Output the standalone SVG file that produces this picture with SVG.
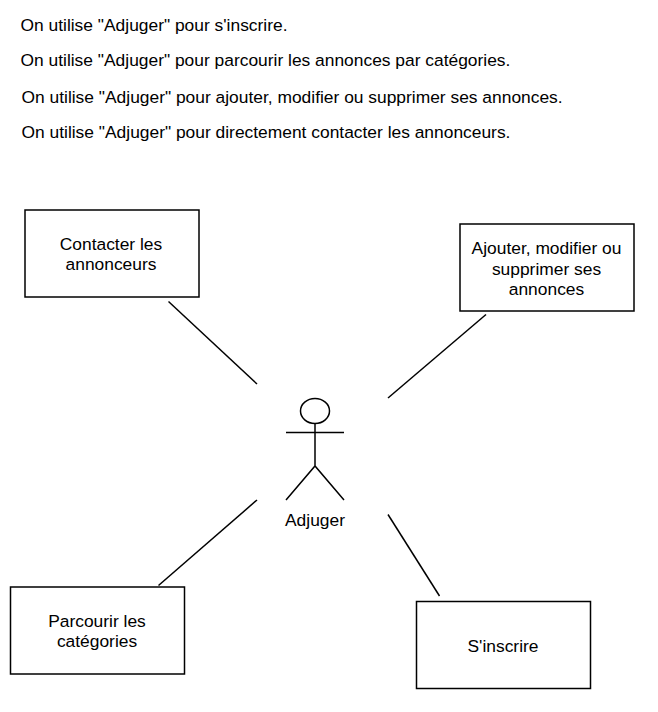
<svg xmlns="http://www.w3.org/2000/svg" width="658" height="712" viewBox="0 0 658 712">
<style>
text{font-family:"Liberation Sans",Arial,sans-serif;font-size:17.4px;fill:#000}
.c{text-anchor:middle}
rect{fill:#fff;stroke:#000;stroke-width:1.5}
line,.a{stroke:#000;stroke-width:1.5;fill:none}
</style>
<rect width="658" height="712" style="fill:#fff;stroke:none"/>
<g id="notes">
<text x="20.500" y="30.500">On utilise "Adjuger" pour s'inscrire.</text>
<text x="20.500" y="66">On utilise "Adjuger" pour parcourir les annonces par catégories.</text>
<text x="21.500" y="103">On utilise "Adjuger" pour ajouter, modifier ou supprimer ses annonces.</text>
<text x="21.500" y="137.500">On utilise "Adjuger" pour directement contacter les annonceurs.</text>
</g>
<g id="connectors">
<line x1="168.500" y1="301.500" x2="257" y2="384"/>
<line x1="486" y1="314.500" x2="388" y2="398"/>
<line x1="257" y1="500" x2="158.500" y2="585.500"/>
<line x1="388" y1="514.500" x2="439.500" y2="596"/>
</g>
<g id="contacter">
<rect x="25" y="210" width="174" height="87"/>
<text class="c" x="111" y="250">Contacter les</text>
<text class="c" x="111" y="270">annonceurs</text>
</g>
<g id="ajouter">
<rect x="460" y="224" width="174" height="87"/>
<text class="c" x="546.500" y="254">Ajouter, modifier ou</text>
<text class="c" x="546.500" y="275">supprimer ses</text>
<text class="c" x="546.500" y="295">annonces</text>
</g>
<g id="parcourir">
<rect x="10.500" y="587" width="174" height="87"/>
<text class="c" x="97" y="627">Parcourir les</text>
<text class="c" x="97" y="647">catégories</text>
</g>
<g id="inscrire">
<rect x="416.500" y="601.500" width="174" height="87"/>
<text class="c" x="503" y="652">S'inscrire</text>
</g>
<g id="adjuger">
<ellipse class="a" cx="315" cy="411" rx="14.500" ry="12.500"/>
<path class="a" d="M315 423.500V466M286 432.500H344M286 500L315 466L344 500"/>
<text class="c" x="315" y="525.500">Adjuger</text>
</g>
</svg>
